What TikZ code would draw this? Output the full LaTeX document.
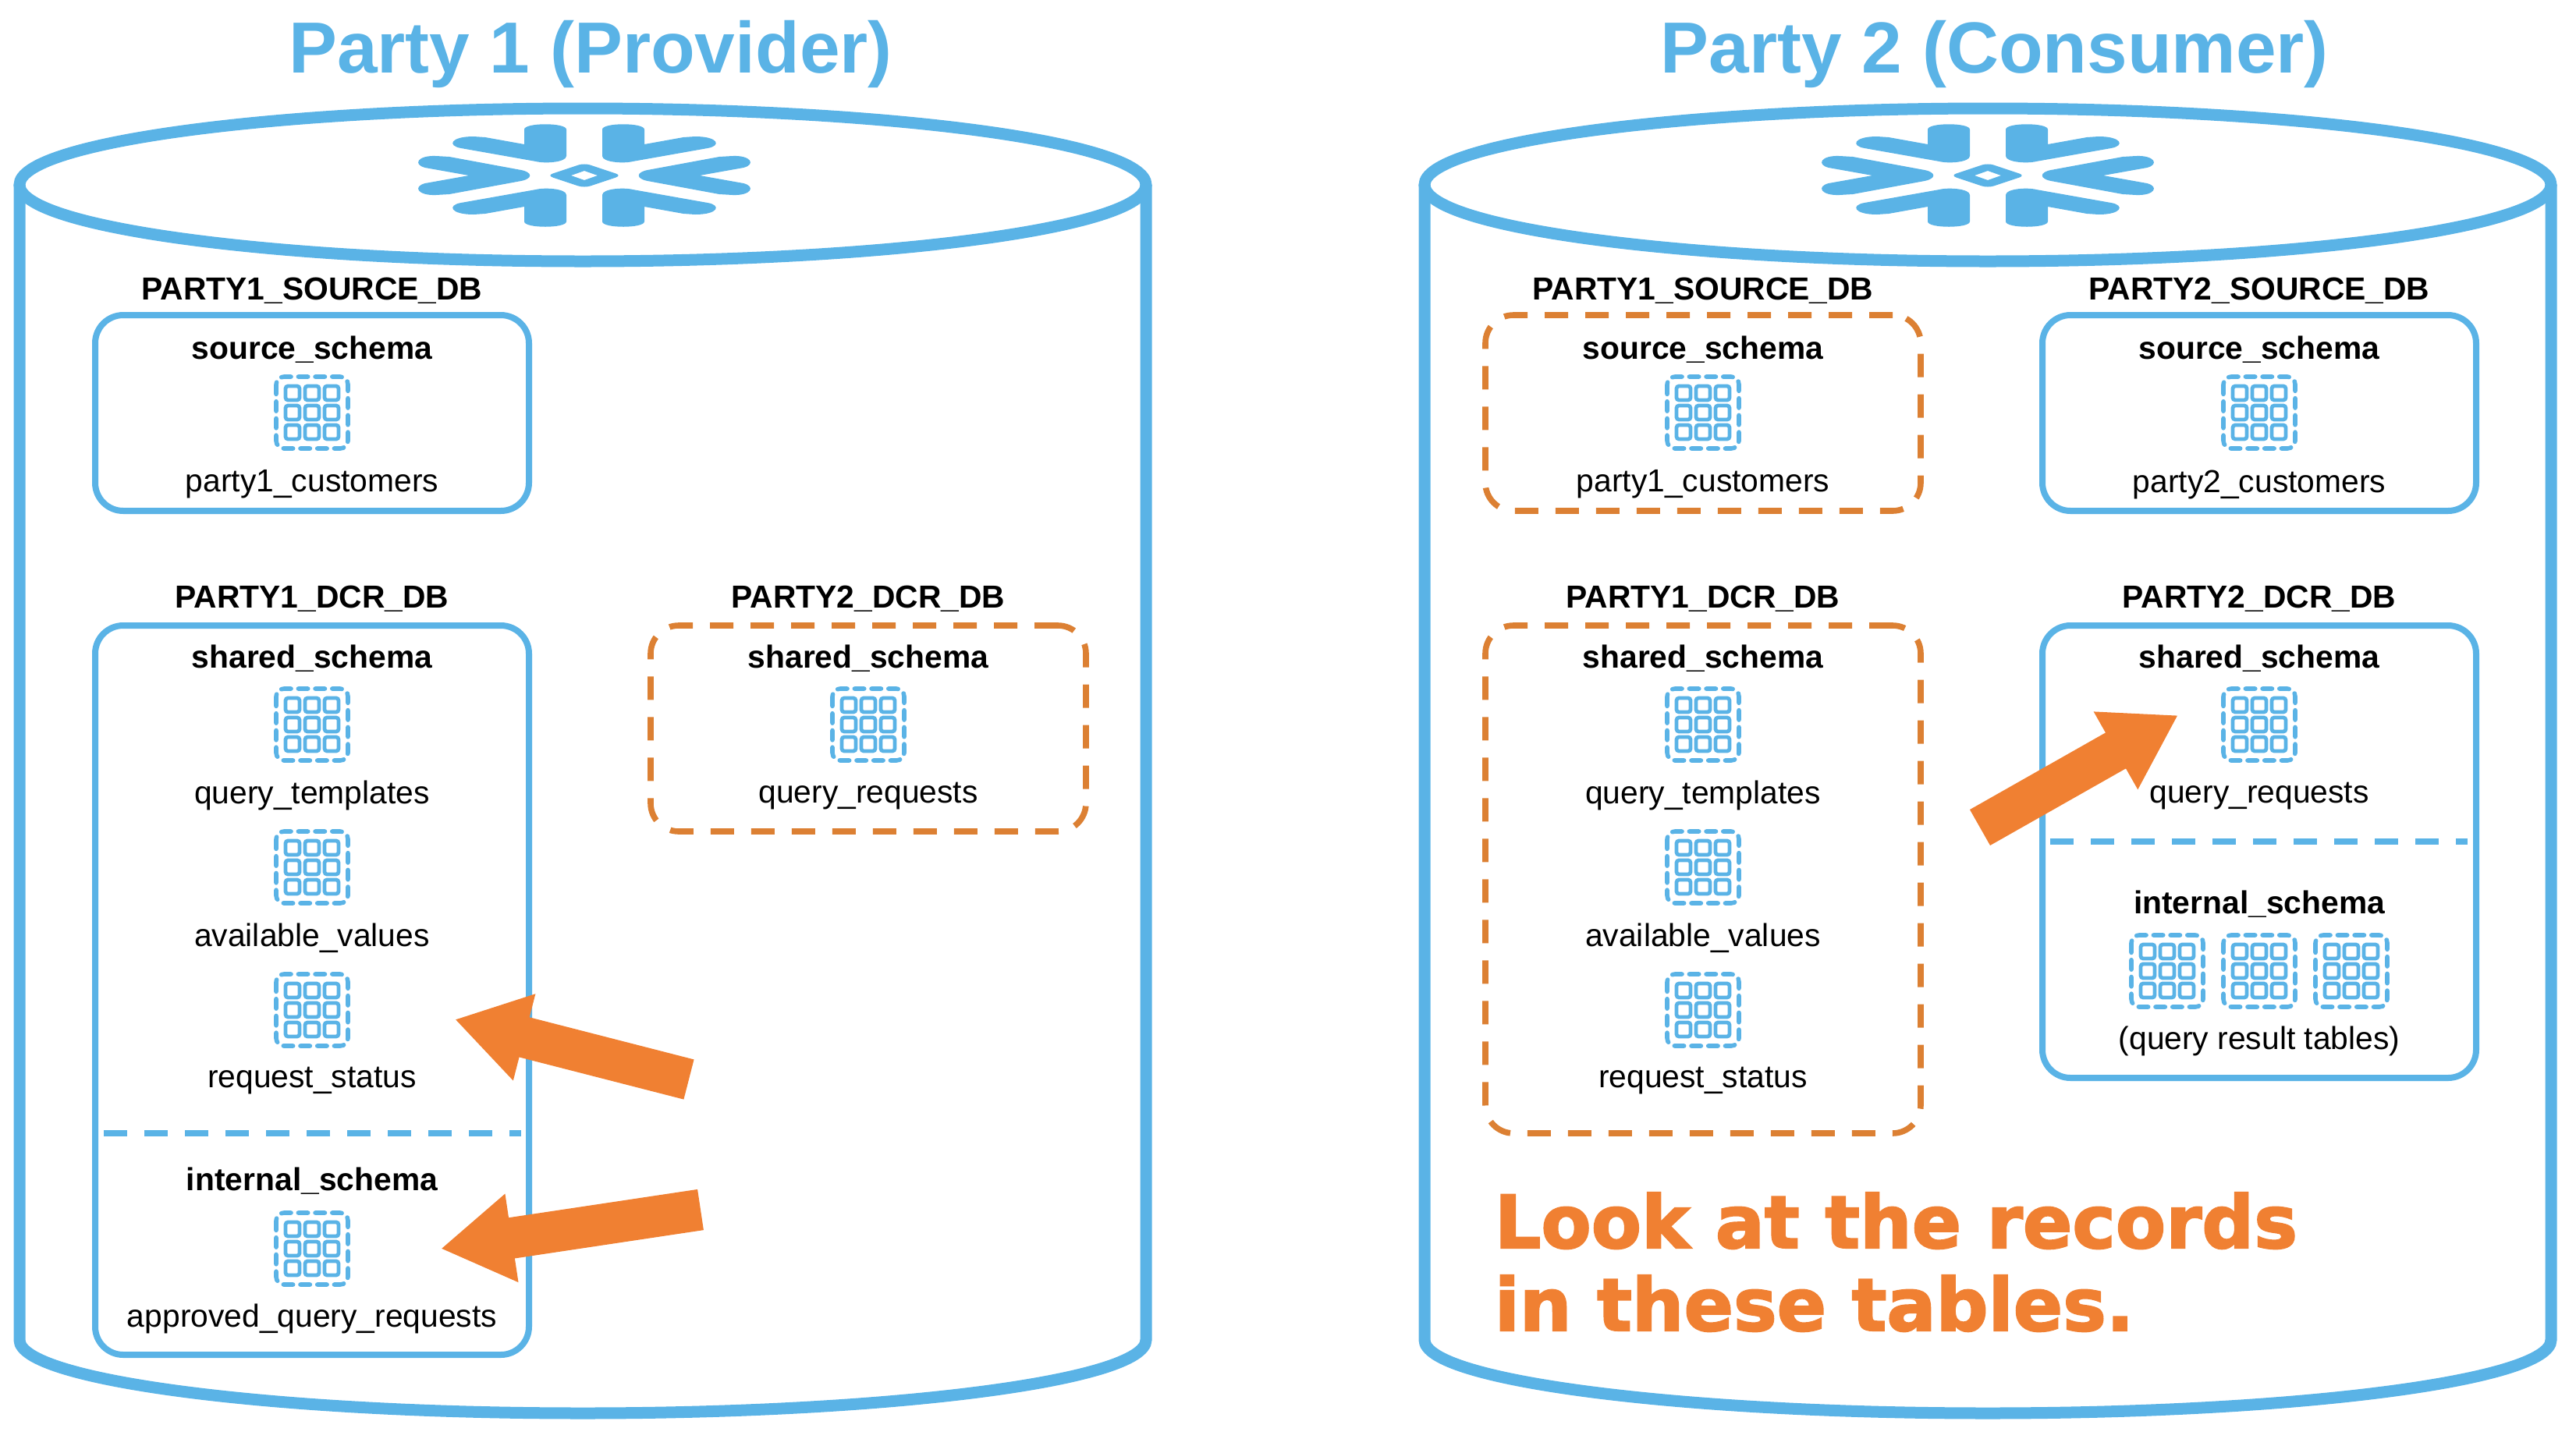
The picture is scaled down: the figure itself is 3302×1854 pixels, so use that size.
\documentclass[tikz,border=0pt]{standalone}
\usepackage{fontspec}
\setmainfont{Liberation Sans}
\newfontfamily\heavyfont[FakeBold=2.2]{DejaVu Sans Bold}
\usetikzlibrary{arrows.meta}

\definecolor{cylblue}{HTML}{5AB3E6}
\definecolor{sharedorange}{HTML}{DC8033}
\definecolor{arroworange}{HTML}{F08032}

\tikzset{
  title/.style={text=cylblue, inner sep=0pt, font=\fontsize{23.2}{26}\selectfont\bfseries},
  dbname/.style={inner sep=0pt, font=\fontsize{10.2}{12}\selectfont\bfseries},
  schemaname/.style={dbname},
  tblname/.style={inner sep=0pt, font=\fontsize{10.2}{12}\selectfont},
  dbbox/.style={draw=cylblue, line width=2pt, rounded corners=9pt, inner sep=0pt},
  sharedbox/.style={dbbox, draw=sharedorange, line width=1.9pt, dash pattern=on 7.5pt off 5.5pt},
  divider/.style={draw=cylblue, line width=1.9pt, dash pattern=on 7.5pt off 5.5pt},
  cyl/.style={draw=cylblue, line width=3.75pt},
  bigarrow/.style={draw=arroworange, line width=13.2pt, -{Triangle[length=23pt,width=27pt]}},
  bigtext/.style={text=arroworange, inner sep=0pt, anchor=base west, font=\fontsize{23.4}{26}\selectfont\heavyfont},
  tblicon/.pic={
    \draw[cylblue, line width=1.4pt, line cap=round, rounded corners=2.5pt, dash pattern=on 3.1pt off 2.33pt]
      (-46,-46) rectangle (46,46);
    \foreach \i in {-1,0,1} {
      \foreach \j in {-1,0,1} {
        \draw[cylblue, line width=1.2pt, rounded corners=0.8pt]
          (\i*25-9,\j*25-9) rectangle (\i*25+9,\j*25+9);
      }
    }
  },
  logo/.pic={
    \foreach \sx in {1,-1} {
      \foreach \sy in {1,-1} {
        \fill[cylblue, xscale=\sx, yscale=\sy]
          (-77,-59) .. controls (-77,-68) and (-23,-68) .. (-23,-59) -- (-23,-25)
          .. controls (-23,-17) and (-50,-15) .. (-62,-18) -- (-158,-35)
          .. controls (-176,-38) and (-172,-50) .. (-142,-50) -- (-127,-49) -- (-77,-40) -- cycle;
      }
      \fill[cylblue, xscale=\sx]
        (-148,0) -- (-204,-10) .. controls (-220,-14) and (-214,-26) .. (-190,-25) -- (-173,-24)
        -- (-81,-7) .. controls (-66,-4) and (-66,4) .. (-81,7) -- (-173,24) -- (-190,25)
        .. controls (-214,26) and (-220,14) .. (-204,10) -- cycle;
    }
    \fill[cylblue, even odd rule]
      [rounded corners=2pt] (-48,0) -- (0,-16) -- (48,0) -- (0,16) -- cycle
      [sharp corners] (-17,0) -- (0,-6) -- (17,0) -- (0,6) -- cycle;
  }
}

\begin{document}
\begin{tikzpicture}[x=0.25pt, y=-0.25pt]
  \useasboundingbox (0,0) rectangle (3302,1854);

  % the two cylinders
  \foreach \cx in {747,2548} {
    \draw[cyl] (\cx,237) ellipse [x radius=722, y radius=98];
    \draw[cyl] (\cx-722,237) -- (\cx-722,1718)
      arc [start angle=180, end angle=0, x radius=722, y radius=94] -- (\cx+722,237);
  }
  \pic at (749,225) {logo};
  \pic at (2548,225) {logo};

  \node[title] (title1) at (757,69) {Party 1 (Provider)};
  \node[title] (title2) at (2557,69) {Party 2 (Consumer)};

  % party 1
  \node[dbbox, minimum width=139pt, minimum height=62.75pt] (p1src) at (400,529.5) {};
  \node[dbname] (p1srcname) at (400,373) {PARTY1\_SOURCE\_DB};
  \node[schemaname] (p1srcschema) at (400,448) {source\_schema};
  \pic at (400,529) {tblicon};
  \node[tblname] (p1cust) at (400,621) {party1\_customers};

  \node[dbbox, minimum width=139pt, minimum height=233.75pt] (p1dcr) at (400,1269.5) {};
  \node[dbname] (p1dcrname) at (400,768) {PARTY1\_DCR\_DB};
  \node[schemaname] (p1shared) at (400,844) {shared\_schema};
  \foreach \y/\t in {929/query\_templates, 1112/available\_values, 1295/request\_status} {
    \pic at (400,\y) {tblicon};
    \node[tblname] at (400,\y+91) {\t};
  }
  \coordinate (p1divl) at (133,1453);
  \coordinate (p1divr) at (668,1453);
  \draw[divider] (p1divl) -- (p1divr);
  \node[schemaname] (p1internal) at (400,1514) {internal\_schema};
  \pic at (400,1601) {tblicon};
  \node[tblname] (p1approved) at (400,1691) {approved\_query\_requests};

  \node[sharedbox, minimum width=139.5pt, minimum height=66pt] (p2copy) at (1113,934) {};
  \node[dbname] (p2copyname) at (1113,768) {PARTY2\_DCR\_DB};
  \node[schemaname] (p2copyschema) at (1113,844) {shared\_schema};
  \pic at (1113,929) {tblicon};
  \node[tblname] (p2copyreq) at (1113,1021) {query\_requests};

  % party 2
  \node[sharedbox, minimum width=139.5pt, minimum height=62.75pt] (c1src) at (2183,529.5) {};
  \node[dbname] (c1srcname) at (2183,373) {PARTY1\_SOURCE\_DB};
  \node[schemaname] (c1srcschema) at (2183,448) {source\_schema};
  \pic at (2183,529) {tblicon};
  \node[tblname] (c1cust) at (2183,621) {party1\_customers};

  \node[sharedbox, minimum width=139.5pt, minimum height=162.75pt] (c1dcr) at (2183,1127.5) {};
  \node[dbname] (c1dcrname) at (2183,768) {PARTY1\_DCR\_DB};
  \node[schemaname] (c1shared) at (2183,844) {shared\_schema};
  \foreach \y/\t in {929/query\_templates, 1112/available\_values, 1295/request\_status} {
    \pic at (2183,\y) {tblicon};
    \node[tblname] at (2183,\y+91) {\t};
  }

  \node[dbbox, minimum width=139pt, minimum height=62.75pt] (c2src) at (2896,529.5) {};
  \node[dbname] (c2srcname) at (2896,373) {PARTY2\_SOURCE\_DB};
  \node[schemaname] (c2srcschema) at (2896,448) {source\_schema};
  \pic at (2896,529) {tblicon};
  \node[tblname] (c2cust) at (2896,621) {party2\_customers};

  \node[dbbox, minimum width=139pt, minimum height=145pt] (c2dcr) at (2896,1092) {};
  \node[dbname] (c2dcrname) at (2896,768) {PARTY2\_DCR\_DB};
  \node[schemaname] (c2shared) at (2896,844) {shared\_schema};
  \pic at (2896,929) {tblicon};
  \node[tblname] (c2req) at (2896,1021) {query\_requests};
  \coordinate (c2divl) at (2628,1079);
  \coordinate (c2divr) at (3163,1079);
  \draw[divider] (c2divl) -- (c2divr);
  \node[schemaname] (c2internal) at (2896,1159) {internal\_schema};
  \foreach \x in {2778,2896,3014} {
    \pic at (\x,1245) {tblicon};
  }
  \node[tblname] (c2results) at (2896,1335) {(query result tables)};

  \node[bigtext] (look1) at (1915,1600) {Look at the records};
  \node[bigtext] (look2) at (1915,1706) {in these tables.};

  % orange arrows
  \coordinate (a1from) at (883,1384);
  \coordinate (a1to) at (583,1307);
  \coordinate (a2from) at (898,1551);
  \coordinate (a2to) at (565,1601);
  \coordinate (a3from) at (2538,1061);
  \coordinate (a3to) at (2792,917);
  \draw[bigarrow] (a1from) -- (a1to);
  \draw[bigarrow] (a2from) -- (a2to);
  \draw[bigarrow] (a3from) -- (a3to);
\end{tikzpicture}
\end{document}
